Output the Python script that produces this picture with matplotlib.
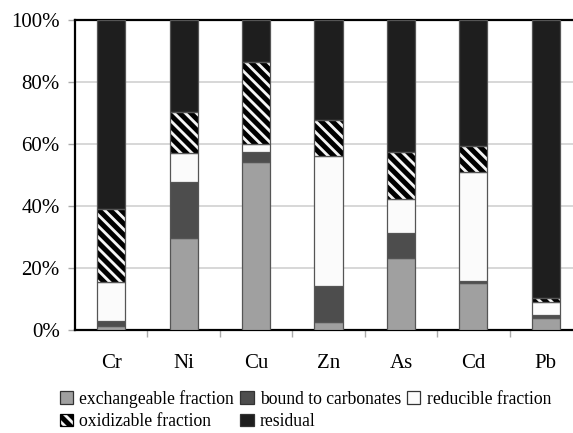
import matplotlib
matplotlib.use("Agg")
import matplotlib.pyplot as plt
from matplotlib.patches import Patch
from matplotlib.ticker import FixedLocator, PercentFormatter
import numpy as np

plt.rcParams['font.family'] = ['Liberation Serif', 'DejaVu Serif']
plt.rcParams['hatch.linewidth'] = 3.6
plt.rcParams['hatch.color'] = 'black'

elements = ["Cr", "Ni", "Cu", "Zn", "As", "Cd", "Pb"]
exchangeable = [1.2, 29.8, 54.3, 2.7, 23.1, 15.3, 3.8]
carbonates = [1.7, 18.0, 3.0, 11.5, 8.1, 0.5, 1.0]
reducible = [12.7, 9.2, 2.7, 41.9, 11.0, 35.3, 4.3]
oxidizable = [23.3, 13.4, 26.6, 11.6, 15.3, 8.3, 1.1]
residual = [61.1, 29.6, 13.4, 32.3, 42.5, 40.6, 89.8]

series_names = ["exchangeable fraction", "bound to carbonates", "reducible fraction",
                "oxidizable fraction", "residual"]
series = [exchangeable, carbonates, reducible, oxidizable, residual]
colors = ["#a0a0a0", "#4d4d4d", "#fbfbfb", "#f4f4f4", "#1e1e1e"]
hatches = [None, None, None, "\\\\\\", None]

fig = plt.figure(figsize=(5.73, 4.33), dpi=100)
ax = fig.add_axes([75/573, (433-330)/433, (582-75)/573, 310/433])

x = np.arange(len(elements))
bottom = np.zeros(len(elements))
for vals, name, c, h in zip(series, series_names, colors, hatches):
    v = np.array(vals)
    if h:
        # hatch drawn in black, outline drawn separately in grey
        ax.bar(x, v, bottom=bottom, width=0.39, color=c, edgecolor="black",
               linewidth=0, hatch=h, zorder=3)
        ax.bar(x, v, bottom=bottom, width=0.39, fill=False, edgecolor="#555555",
               linewidth=0.9, zorder=4)
    else:
        ax.bar(x, v, bottom=bottom, width=0.39, color=c, edgecolor="#555555",
               linewidth=0.9, zorder=3)
    bottom += v

ax.set_xlim(-0.5, len(elements) - 0.5)
ax.set_ylim(0, 100)
ax.yaxis.set_major_locator(FixedLocator([0, 20, 40, 60, 80, 100]))
ax.yaxis.set_major_formatter(PercentFormatter(100, decimals=0))
ax.grid(axis="y", color="#d4d4d4", linewidth=1.3, zorder=0)
ax.set_axisbelow(True)

ax.set_xticks(x)
ax.set_xticklabels(elements)
ax.set_xticks(np.arange(0.5, len(elements) - 0.5, 1), minor=True)
ax.tick_params(axis="x", which="major", length=0, pad=17, labelsize=15)
ax.tick_params(axis="x", which="minor", length=5, color="#aaaaaa", width=1)
ax.tick_params(axis="y", which="major", length=5, color="#aaaaaa", width=1,
               labelsize=15, pad=6)

for s in ["left", "bottom", "top"]:
    ax.spines[s].set_color("black")
    ax.spines[s].set_linewidth(1.6)
ax.spines["right"].set_visible(False)

handles = [Patch(facecolor=c, edgecolor="black" if h else "#333333", hatch=h,
                 linewidth=0.9)
           for c, h in zip(colors, hatches)]
order = [0, 3, 1, 4, 2]
leg = fig.legend([handles[i] for i in order], [series_names[i] for i in order],
                 ncol=3, loc="upper left", bbox_to_anchor=(60/573, 1 - 390/433),
                 frameon=False, fontsize=12.7, handlelength=0.75, handleheight=0.75,
                 handletextpad=0.35, columnspacing=0.35, labelspacing=0.3,
                 borderaxespad=0, borderpad=0)

fig.savefig("out.png", dpi=100)
